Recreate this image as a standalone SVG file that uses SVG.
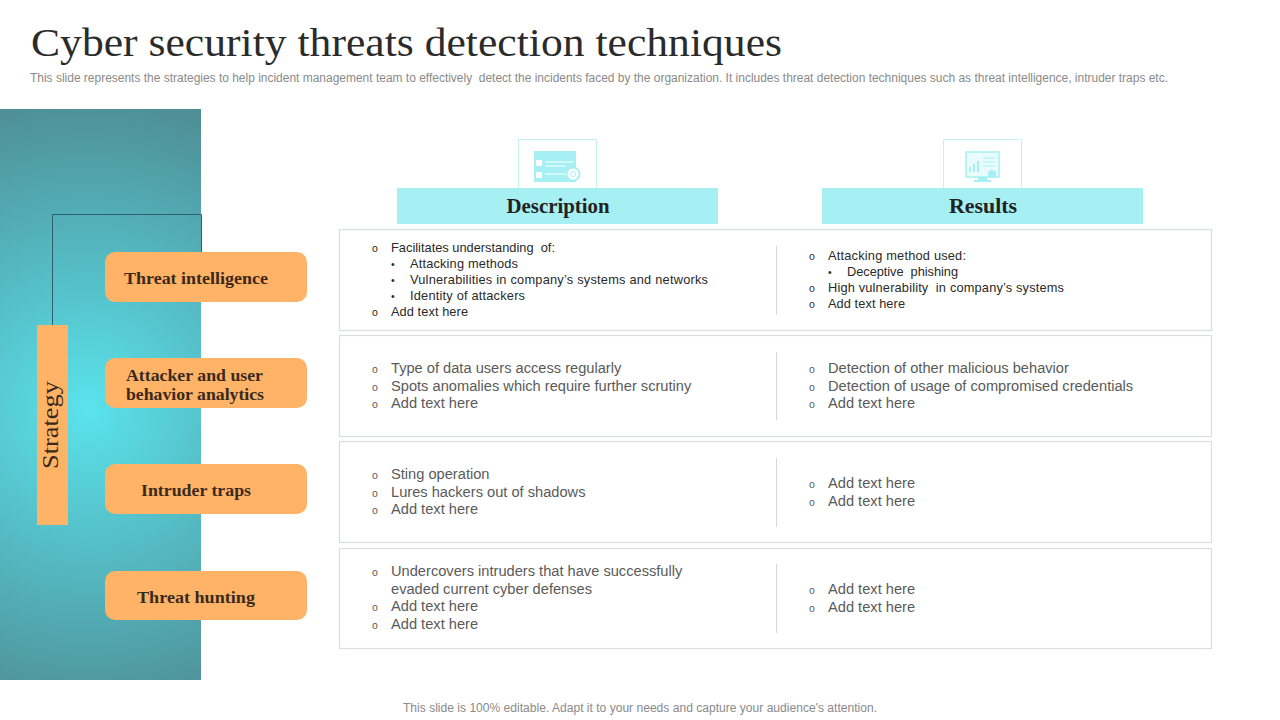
<svg xmlns="http://www.w3.org/2000/svg" width="1280" height="720" viewBox="0 0 1280 720">
<style>
text{white-space:pre}
.ser{font-family:"Liberation Serif","DejaVu Serif",serif}
.san{font-family:"Liberation Sans",Arial,sans-serif}
.lab{font-size:17px;font-weight:700;fill:#3a2a1c}
.hd{font-size:21px;font-weight:700;fill:#222;text-anchor:middle}
.sm{font-size:12.800px;fill:#2a2a2a}
.md{font-size:14.650px;fill:#5a5a5a}
.bu{font-size:10.500px}
.row{fill:#fff;stroke:#d9dede;stroke-width:1.2}
.div{stroke:#d5d9d9;stroke-width:1}
.box{fill:#ffb366}
.ih{fill:#a6f0f4}
.ico{fill:#fff;stroke:#c5f2f5;stroke-width:1}
.ic{fill:#a6f0f4}
.il{stroke:#fff;stroke-width:1.2;fill:none}
</style>
<defs>
<radialGradient id="bg" gradientUnits="userSpaceOnUse" cx="88" cy="410" r="310">
<stop offset="0" stop-color="#5ae3ec"/>
<stop offset="1" stop-color="#4f8f97"/>
</radialGradient>
</defs>
<rect width="1280" height="720" fill="#fff"/>
<text class="ser" x="31" y="56" font-size="41" fill="#2b2b2b" textLength="751" lengthAdjust="spacingAndGlyphs">Cyber security threats detection techniques</text>
<text class="san" x="30" y="82" font-size="12" fill="#8a8a8a" textLength="1138" lengthAdjust="spacingAndGlyphs">This slide represents the strategies to help incident management team to effectively  detect the incidents faced by the organization. It includes threat detection techniques such as threat intelligence, intruder traps etc.</text>
<rect id="panel" x="0" y="109" width="201" height="571" fill="url(#bg)"/>
<g id="connectors"><path d="M52.500 325V214.500H201.500V252" fill="none" stroke="#2f5f6b" stroke-width="1"/></g>
<g id="strategy"><rect class="box" x="37" y="325" width="31" height="200"/>
<text class="ser" transform="translate(58,425) rotate(-90)" font-size="23" fill="#3a2a1c" text-anchor="middle" textLength="88" lengthAdjust="spacingAndGlyphs">Strategy</text></g>
<g id="n1"><rect class="box" x="105" y="252" width="202" height="50" rx="10"/><text class="ser lab" x="124" y="284" textLength="144" lengthAdjust="spacingAndGlyphs">Threat intelligence</text></g>
<g id="n2"><rect class="box" x="105" y="358" width="202" height="50" rx="10"/><text class="ser lab" x="126" y="381" textLength="137" lengthAdjust="spacingAndGlyphs">Attacker and user</text><text class="ser lab" x="126" y="400" textLength="138" lengthAdjust="spacingAndGlyphs">behavior analytics</text></g>
<g id="n3"><rect class="box" x="105" y="464" width="202" height="50" rx="10"/><text class="ser lab" x="141" y="496" textLength="110" lengthAdjust="spacingAndGlyphs">Intruder traps</text></g>
<g id="n4"><rect class="box" x="105" y="571" width="202" height="49" rx="10"/><text class="ser lab" x="137" y="603" textLength="118" lengthAdjust="spacingAndGlyphs">Threat hunting</text></g>
<g id="icon-description"><rect class="ico" x="518.500" y="139.500" width="78" height="49"/>
<rect class="ic" x="534" y="151" width="42" height="31"/>
<rect x="536" y="160" width="6" height="6" fill="#fff"/><rect x="536" y="172" width="6" height="6" fill="#fff"/>
<path class="il" d="M545 162H574M545 166H566M545 174H566"/>
<circle cx="573" cy="174" r="6.500" fill="#fff" stroke="#a6f0f4" stroke-width="2"/><circle cx="573" cy="174" r="2.500" fill="none" stroke="#a6f0f4"/></g>
<g id="icon-results"><rect class="ico" x="943.500" y="139.500" width="78" height="49"/>
<rect x="966" y="152" width="33" height="25" fill="#eafbfc" stroke="#a6f0f4" stroke-width="1.500"/>
<path d="M970 172v-5M974 172v-8M978 172v-11" stroke="#a6f0f4" stroke-width="2" fill="none"/>
<path d="M983 158H995M983 162H995M983 166H995" stroke="#a6f0f4" stroke-width="1" fill="none"/>
<circle cx="992" cy="174" r="4" fill="#a6f0f4"/><path d="M978 177h9v3h4v2h-17v-2h4z" fill="#a6f0f4"/></g>
<g id="header-description"><rect class="ih" x="397" y="188" width="321" height="36"/><text class="ser hd" x="558" y="213" textLength="103" lengthAdjust="spacingAndGlyphs">Description</text></g>
<g id="header-results"><rect class="ih" x="822" y="188" width="321" height="36"/><text class="ser hd" x="983" y="213" textLength="68" lengthAdjust="spacingAndGlyphs">Results</text></g>
<g id="row1"><rect class="row" x="339.500" y="229.500" width="872" height="101"/><line class="div" x1="776.500" x2="776.500" y1="246" y2="315"/>
<g class="san sm">
<text class="bu" x="372" y="252">o</text><text x="391" y="252" textLength="164">Facilitates understanding  of:</text>
<text class="bu" x="391" y="268">•</text><text x="410" y="268" textLength="108">Attacking methods</text>
<text class="bu" x="391" y="284">•</text><text x="410" y="284" textLength="298">Vulnerabilities in company’s systems and networks</text>
<text class="bu" x="391" y="300">•</text><text x="410" y="300" textLength="115">Identity of attackers</text>
<text class="bu" x="372" y="316">o</text><text x="391" y="316" textLength="77">Add text here</text>
<text class="bu" x="809" y="260">o</text><text x="828" y="260" textLength="138">Attacking method used:</text>
<text class="bu" x="828" y="276">•</text><text x="847" y="276" textLength="111">Deceptive  phishing</text>
<text class="bu" x="809" y="292">o</text><text x="828" y="292" textLength="236">High vulnerability  in company’s systems</text>
<text class="bu" x="809" y="308">o</text><text x="828" y="308" textLength="77">Add text here</text>
</g></g>
<g id="row2"><rect class="row" x="339.500" y="335.500" width="872" height="101"/><line class="div" x1="776.500" x2="776.500" y1="352" y2="420"/>
<g class="san md">
<text class="bu" x="372" y="373">o</text><text x="391" y="373">Type of data users access regularly</text>
<text class="bu" x="372" y="391">o</text><text x="391" y="391">Spots anomalies which require further scrutiny</text>
<text class="bu" x="372" y="408">o</text><text x="391" y="408">Add text here</text>
<text class="bu" x="809" y="373">o</text><text x="828" y="373">Detection of other malicious behavior</text>
<text class="bu" x="809" y="391">o</text><text x="828" y="391">Detection of usage of compromised credentials</text>
<text class="bu" x="809" y="408">o</text><text x="828" y="408">Add text here</text>
</g></g>
<g id="row3"><rect class="row" x="339.500" y="441.500" width="872" height="101"/><line class="div" x1="776.500" x2="776.500" y1="458" y2="527"/>
<g class="san md">
<text class="bu" x="372" y="479">o</text><text x="391" y="479">Sting operation</text>
<text class="bu" x="372" y="497">o</text><text x="391" y="497">Lures hackers out of shadows</text>
<text class="bu" x="372" y="514">o</text><text x="391" y="514">Add text here</text>
<text class="bu" x="809" y="488">o</text><text x="828" y="488">Add text here</text>
<text class="bu" x="809" y="506">o</text><text x="828" y="506">Add text here</text>
</g></g>
<g id="row4"><rect class="row" x="339.500" y="548.500" width="872" height="100"/><line class="div" x1="776.500" x2="776.500" y1="564" y2="633"/>
<g class="san md">
<text class="bu" x="372" y="576">o</text><text x="391" y="576">Undercovers intruders that have successfully</text>
<text x="391" y="594">evaded current cyber defenses</text>
<text class="bu" x="372" y="611">o</text><text x="391" y="611">Add text here</text>
<text class="bu" x="372" y="629">o</text><text x="391" y="629">Add text here</text>
<text class="bu" x="809" y="594">o</text><text x="828" y="594">Add text here</text>
<text class="bu" x="809" y="612">o</text><text x="828" y="612">Add text here</text>
</g></g>
<text class="san" x="640" y="712" font-size="12" fill="#8a8a8a" text-anchor="middle" textLength="474" lengthAdjust="spacingAndGlyphs">This slide is 100% editable. Adapt it to your needs and capture your audience's attention.</text>
</svg>
